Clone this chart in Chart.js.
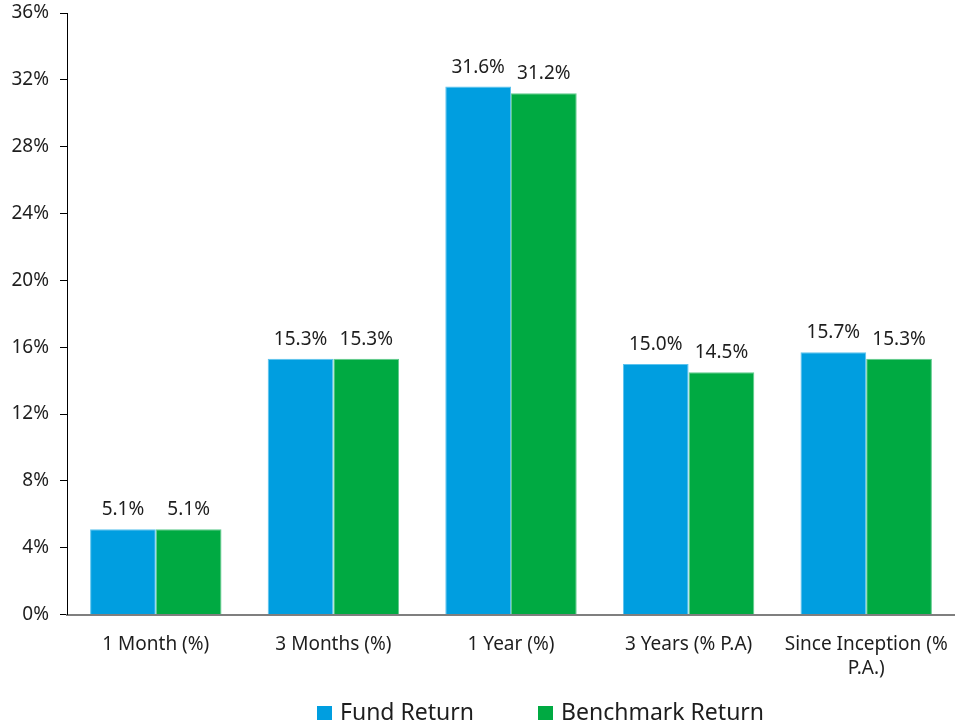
<!DOCTYPE html>
<html>
<head>
<meta charset="utf-8">
<script src="https://cdn.jsdelivr.net/npm/chart.js@4.4.1/dist/chart.umd.min.js"></script>
<style>
  html, body { margin: 0; padding: 0; background: #fff; }
  #wrap { width: 955px; height: 726px; }
</style>
</head>
<body>
<div id="wrap"><canvas id="chart"></canvas></div>
<script>
const categories = ['1 Month (%)', '3 Months (%)', '1 Year (%)', '3 Years (% P.A)', ['Since Inception (%', 'P.A.)']];
const fundReturn = [5.1, 15.3, 31.6, 15.0, 15.7];
const benchmarkReturn = [5.1, 15.3, 31.2, 14.5, 15.3];
const yTicks = [0, 4, 8, 12, 16, 20, 24, 28, 32, 36];

const FONT = '"Noto Sans", "Open Sans", sans-serif';
const TEXT = '#1e1e1e';
const BLUE = '#009ee0';
const GREEN = '#00aa42';

// value labels above each bar
const barLabels = {
    id: 'barLabels',
    afterDatasetsDraw(chart) {
        const ctx = chart.ctx;
        ctx.save();
        ctx.font = '19px ' + FONT;
        ctx.fillStyle = TEXT;
        ctx.textAlign = 'center';
        ctx.textBaseline = 'alphabetic';
        chart.data.datasets.forEach((ds, i) => {
            chart.getDatasetMeta(i).data.forEach((bar, j) => {
                ctx.fillText(ds.data[j].toFixed(1) + '%', bar.x, bar.y - 14);
            });
        });
        ctx.restore();
    }
};

// bottom legend drawn by hand so the item gap can match
const bottomLegend = {
    id: 'bottomLegend',
    afterDraw(chart) {
        const ctx = chart.ctx;
        ctx.save();
        ctx.font = '23px ' + FONT;
        ctx.textBaseline = 'middle';
        let x = 317;
        const y = 713;
        chart.data.datasets.forEach(ds => {
            ctx.fillStyle = ds.backgroundColor;
            ctx.fillRect(x, y - 7, 15, 14);
            ctx.fillStyle = TEXT;
            ctx.fillText(ds.label, x + 23, y);
            x += 23 + ctx.measureText(ds.label).width + 64;
        });
        ctx.restore();
    }
};

new Chart(document.getElementById('chart'), {
    type: 'bar',
    data: {
        labels: categories,
        datasets: [
            { label: 'Fund Return', data: fundReturn, backgroundColor: BLUE, borderColor: '#5cc3ee', borderWidth: 1 },
            { label: 'Benchmark Return', data: benchmarkReturn, backgroundColor: GREEN, borderColor: '#5fca8c', borderWidth: 1 }
        ]
    },
    options: {
        responsive: true,
        maintainAspectRatio: false,
        animation: false,
        layout: { padding: { top: 13, left: 11, right: -4, bottom: 28 } },
        datasets: { bar: { categoryPercentage: 0.74, barPercentage: 1.0 } },
        plugins: {
            legend: { display: false },
            tooltip: { enabled: false }
        },
        scales: {
            x: {
                afterFit(scale) { scale.paddingLeft = 0; scale.paddingRight = 0; },
                grid: { display: false, drawTicks: false },
                border: { display: true, color: '#7f7f7f', width: 2 },
                ticks: { color: TEXT, font: { family: FONT, size: 19, lineHeight: 1.25 }, padding: 18, maxRotation: 0, autoSkip: false }
            },
            y: {
                min: 0,
                max: 36,
                afterBuildTicks(scale) { scale.ticks = yTicks.map(v => ({ value: v })); },
                afterFit(scale) { scale.width = 56; scale.paddingTop = 0; scale.paddingBottom = 0; },
                grid: { drawOnChartArea: false, tickLength: 7, color: '#000' },
                border: { display: true, color: '#000', width: 1 },
                ticks: { color: TEXT, font: { family: FONT, size: 19 }, padding: 11, callback: v => v + '%' }
            }
        }
    },
    plugins: [barLabels, bottomLegend]
});
</script>
</body>
</html>
